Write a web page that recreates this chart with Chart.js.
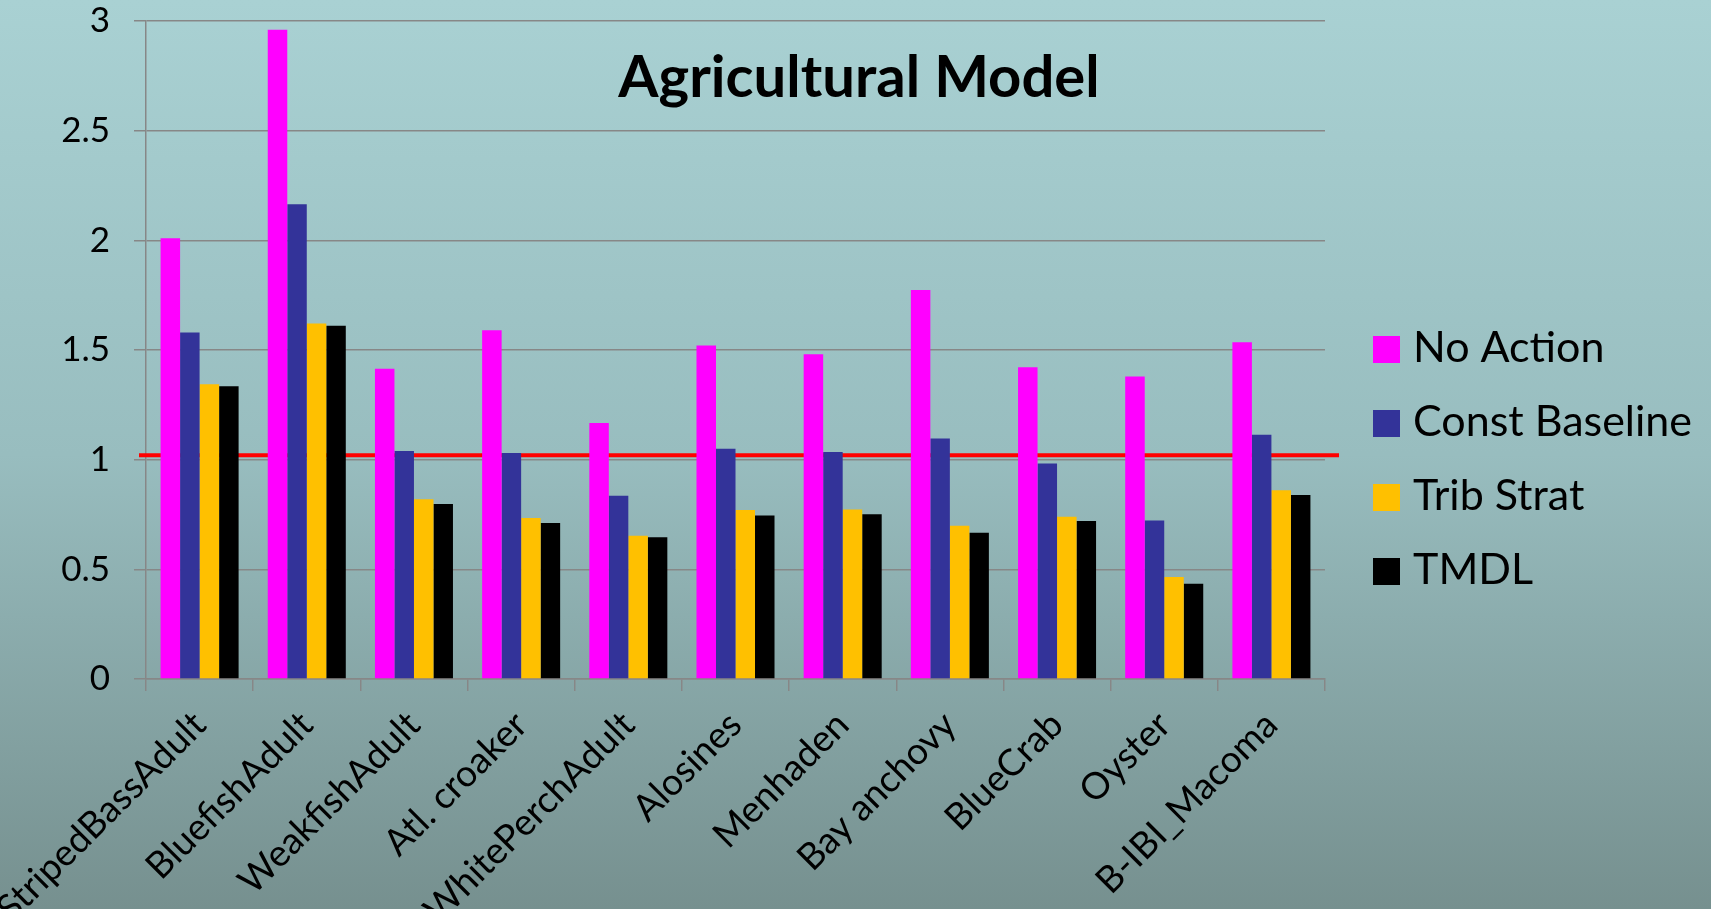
<!DOCTYPE html>
<html>
<head>
<meta charset="utf-8">
<script src="https://cdn.jsdelivr.net/npm/chart.js@4"></script>
<style>
  html, body { margin: 0; padding: 0; }
  #wrap {
    width: 1711px; height: 909px;
    background: linear-gradient(to bottom, #a9d1d3 0%, #98bdbf 50%, #76908f 100%);
  }
  canvas { display: block; }
</style>
</head>
<body>
<div id="wrap"><canvas id="chart" width="1711" height="909"></canvas></div>
<script>
// data
const categories = ['StripedBassAdult', 'BluefishAdult', 'WeakfishAdult', 'Atl. croaker', 'WhitePerchAdult',
    'Alosines', 'Menhaden', 'Bay anchovy', 'BlueCrab', 'Oyster', 'B-IBI_Macoma'];
const noAction = [2.01, 2.96, 1.415, 1.59, 1.167, 1.52, 1.481, 1.773, 1.421, 1.379, 1.535];
const constBaseline = [1.58, 2.165, 1.039, 1.03, 0.836, 1.05, 1.035, 1.097, 0.983, 0.723, 1.114];
const tribStrat = [1.344, 1.621, 0.819, 0.734, 0.653, 0.77, 0.773, 0.699, 0.74, 0.465, 0.861];
const tmdl = [1.335, 1.61, 0.798, 0.711, 0.646, 0.745, 0.751, 0.667, 0.72, 0.434, 0.839];
const yTicks = ['0', '0.5', '1', '1.5', '2', '2.5', '3'];
const threshold = 1.02;
const chartTitle = 'Agricultural Model';

const FONT = 'Lato, "Open Sans", sans-serif';
const GRID = '#878787';

const overlayPlugin = {
    id: 'overlay',
    beforeDatasetsDraw(chart) {
        // red reference line
        const ctx = chart.ctx;
        const y = chart.scales.y.getPixelForValue(threshold);
        ctx.save();
        ctx.strokeStyle = '#ff0000';
        ctx.lineWidth = 4;
        ctx.beginPath();
        ctx.moveTo(chart.chartArea.left - 7, y);
        ctx.lineTo(chart.chartArea.right + 14, y);
        ctx.stroke();
        ctx.restore();
    },
    afterDraw(chart) {
        const ctx = chart.ctx;
        ctx.save();
        // title
        ctx.fillStyle = '#000';
        ctx.font = 'bold 58px ' + FONT;
        ctx.textAlign = 'center';
        ctx.textBaseline = 'alphabetic';
        ctx.fillText(chartTitle, 859, 97);
        // legend
        ctx.font = '43px ' + FONT;
        ctx.textAlign = 'left';
        chart.data.datasets.forEach((ds, i) => {
            const top = 336 + i * 74;
            ctx.fillStyle = ds.backgroundColor;
            ctx.fillRect(1373, top, 27, 27);
            ctx.fillStyle = '#000';
            ctx.fillText(ds.label, 1413, top + 26);
        });
        ctx.restore();
    }
};

new Chart(document.getElementById('chart'), {
    type: 'bar',
    data: {
        labels: categories,
        datasets: [
            { label: 'No Action', data: noAction, backgroundColor: '#ff00ff' },
            { label: 'Const Baseline', data: constBaseline, backgroundColor: '#333399' },
            { label: 'Trib Strat', data: tribStrat, backgroundColor: '#ffc000' },
            { label: 'TMDL', data: tmdl, backgroundColor: '#000000' }
        ]
    },
    options: {
        responsive: false,
        devicePixelRatio: 1,
        animation: false,
        layout: { padding: { top: 21, left: 0, right: 386, bottom: 0 } },
        datasets: { bar: { categoryPercentage: 0.728, barPercentage: 1.0, borderWidth: 0 } },
        plugins: { legend: { display: false }, title: { display: false }, tooltip: { enabled: false } },
        scales: {
            x: {
                offset: true,
                grid: { offset: true, drawOnChartArea: false, drawTicks: true, tickLength: 12, color: GRID, lineWidth: 1.5 },
                border: { color: GRID, width: 1.5 },
                ticks: { color: '#000', font: { family: FONT, size: 37 }, minRotation: 45, maxRotation: 45, padding: 12, autoSkip: false },
                afterFit(s) { s.height = 230; s.paddingLeft = 0; s.paddingRight = 0; }
            },
            y: {
                min: 0, max: 3,
                grid: { color: GRID, lineWidth: 1.5, tickLength: 12 },
                border: { color: GRID, width: 1.5 },
                ticks: {
                    stepSize: 0.5, color: '#000', font: { family: FONT, size: 35 }, padding: 24,
                    callback: (v, i) => yTicks[i]
                },
                afterFit(s) { s.width = 146; s.paddingTop = 0; s.paddingBottom = 0; }
            }
        }
    },
    plugins: [overlayPlugin]
});
</script>
</body>
</html>
